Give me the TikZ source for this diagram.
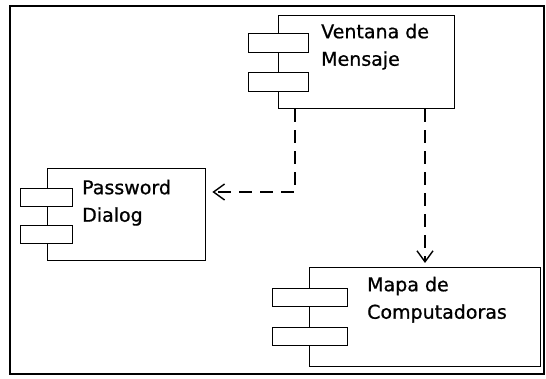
\documentclass[tikz,border=0pt]{standalone}
\usepackage{fontspec}
\setmainfont{DejaVu Sans}[FakeBold=0.8,AutoFakeBold=0.8]
\usetikzlibrary{arrows.meta,calc}
\tikzset{
  ln/.style={line width=1.4pt, black},
  comp/.style={ln, rectangle, draw, inner sep=0pt, anchor=north west},
  port/.style={ln, rectangle, draw, fill=white, inner sep=0pt, anchor=north west},
  lbl/.style={inner sep=0pt, anchor=north west, align=left, font={\fontsize{19}{27.5}\selectfont\bfseries}},
  dep/.style={ln, dash pattern=on 13pt off 8pt, -{Straight Barb[length=11pt,width=16pt]}}
}
\begin{document}
\begin{tikzpicture}[x=1pt,y=-1pt]
\useasboundingbox (0,0) rectangle (546,379);
\draw[ln] (10,6) rectangle (544,374);
% Ventana de Mensaje
\node[comp, minimum width=176pt, minimum height=93pt] (ven) at (278,15) {};
\node[port, minimum width=60pt, minimum height=19pt] (venp1) at (248,33) {};
\node[port, minimum width=60pt, minimum height=19pt] (venp2) at (248,72) {};
\node[lbl] (vent) at (321,23.6) {Ventana de\\Mensaje};
% Password Dialog
\node[comp, minimum width=158pt, minimum height=92pt] (pwd) at (47,168) {};
\node[port, minimum width=52pt, minimum height=18pt] (pwdp1) at (20,188) {};
\node[port, minimum width=52pt, minimum height=18pt] (pwdp2) at (20,225) {};
\node[lbl] (pwdt) at (82,179.6) {Password\\Dialog};
% Mapa de Computadoras
\node[comp, minimum width=231pt, minimum height=99pt] (map) at (309,267) {};
\node[port, minimum width=75pt, minimum height=18pt] (mapp1) at (272,288) {};
\node[port, minimum width=75pt, minimum height=18pt] (mapp2) at (272,327) {};
\node[lbl] (mapt) at (367,276.6) {Mapa de\\Computadoras};
% dependencies
\coordinate (s1) at ($(ven.south west)+(17,0)$);
\coordinate (e1) at ($(pwd.north east)+(6,24)$);
\coordinate (s2) at ($(ven.south west)+(147,0)$);
\coordinate (e2) at ($(map.north west)+(116,-4)$);
\draw[dep] (s1) |- (e1);
\draw[dep] (s2) -- (e2);
\end{tikzpicture}
\end{document}
